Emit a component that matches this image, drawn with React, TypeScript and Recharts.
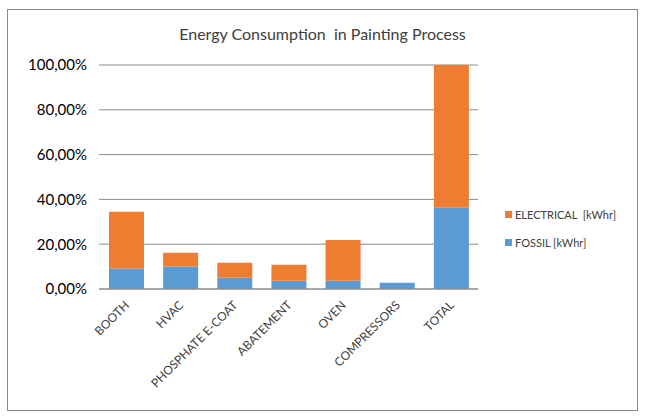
import React from "react";
import { Bar, BarChart, CartesianGrid, XAxis, YAxis } from "recharts";

// Share of total energy per painting-process step, in percent
const categories = ["BOOTH", "HVAC", "PHOSPHATE E-COAT", "ABATEMENT", "OVEN", "COMPRESSORS", "TOTAL"];
const fossil = [9.1, 10.0, 5.0, 3.7, 3.7, 2.8, 36.3];
const electrical = [25.4, 6.2, 6.7, 7.1, 18.2, 0, 63.7];
const yTicks = [0, 20, 40, 60, 80, 100];

const ORANGE = "#ED7D31";
const BLUE = "#5B9BD5";
const TEXT = "#404040";
const FONT = "Lato, 'Open Sans', sans-serif";

const data = categories.map((name, i) => ({
  name,
  fossil: fossil[i],
  electrical: electrical[i],
}));

const legendItems = [
  { label: "ELECTRICAL  [kWhr]", color: ORANGE },
  { label: "FOSSIL [kWhr]", color: BLUE },
];

const fmtPct = (v: number) => v.toFixed(2).replace(".", ",") + "%";

function XTick({ x, y, payload }: any) {
  return (
    <text
      x={x + 4}
      y={y + 9}
      textAnchor="end"
      fill={TEXT}
      fontSize={12}
      fontFamily={FONT}
      transform={`rotate(-45, ${x + 4}, ${y + 9})`}
    >
      {payload.value}
    </text>
  );
}

export default function App() {
  return (
    <div style={{ position: "fixed", left: 0, top: 0, width: 645, height: 420, background: "#fff" }}>
      <div
        style={{
          position: "absolute",
          left: 7,
          top: 9,
          width: 629,
          height: 400,
          border: "1px solid #8a8a8a",
        }}
      />
      <div
        style={{
          position: "absolute",
          left: 0,
          width: 645,
          top: 24,
          textAlign: "center",
          fontFamily: FONT,
          fontSize: 16,
          color: TEXT,
          whiteSpace: "pre",
        }}
      >
        {"Energy Consumption  in Painting Process"}
      </div>
      <div style={{ position: "absolute", left: 0, top: 0 }}>
        <BarChart
          width={645}
          height={420}
          data={data}
          margin={{ top: 65, right: 167, left: 19, bottom: 31 }}
          barSize={35}
        >
          <CartesianGrid vertical={false} stroke="#8c8c8c" />
          <XAxis
            dataKey="name"
            interval={0}
            height={100}
            tick={<XTick />}
            tickLine={false}
            axisLine={{ stroke: "#8c8c8c" }}
          />
          <YAxis
            width={80}
            domain={[0, 100]}
            ticks={yTicks}
            tickFormatter={fmtPct}
            tick={{ fill: "#000", fontSize: 15, fontFamily: FONT }}
            tickLine={false}
            axisLine={false}
            tickMargin={6}
          />
          <Bar dataKey="fossil" name="FOSSIL [kWhr]" stackId="a" fill={BLUE} isAnimationActive={false} />
          <Bar dataKey="electrical" name="ELECTRICAL  [kWhr]" stackId="a" fill={ORANGE} isAnimationActive={false} />
        </BarChart>
      </div>
      <div style={{ position: "absolute", left: 505, top: 200, fontFamily: FONT, fontSize: 11, color: TEXT }}>
        {legendItems.map((it) => (
          <div key={it.label} style={{ display: "flex", alignItems: "center", height: 28, whiteSpace: "pre" }}>
            <span style={{ width: 7, height: 7, background: it.color, marginRight: 3, display: "inline-block" }} />
            {it.label}
          </div>
        ))}
      </div>
    </div>
  );
}
